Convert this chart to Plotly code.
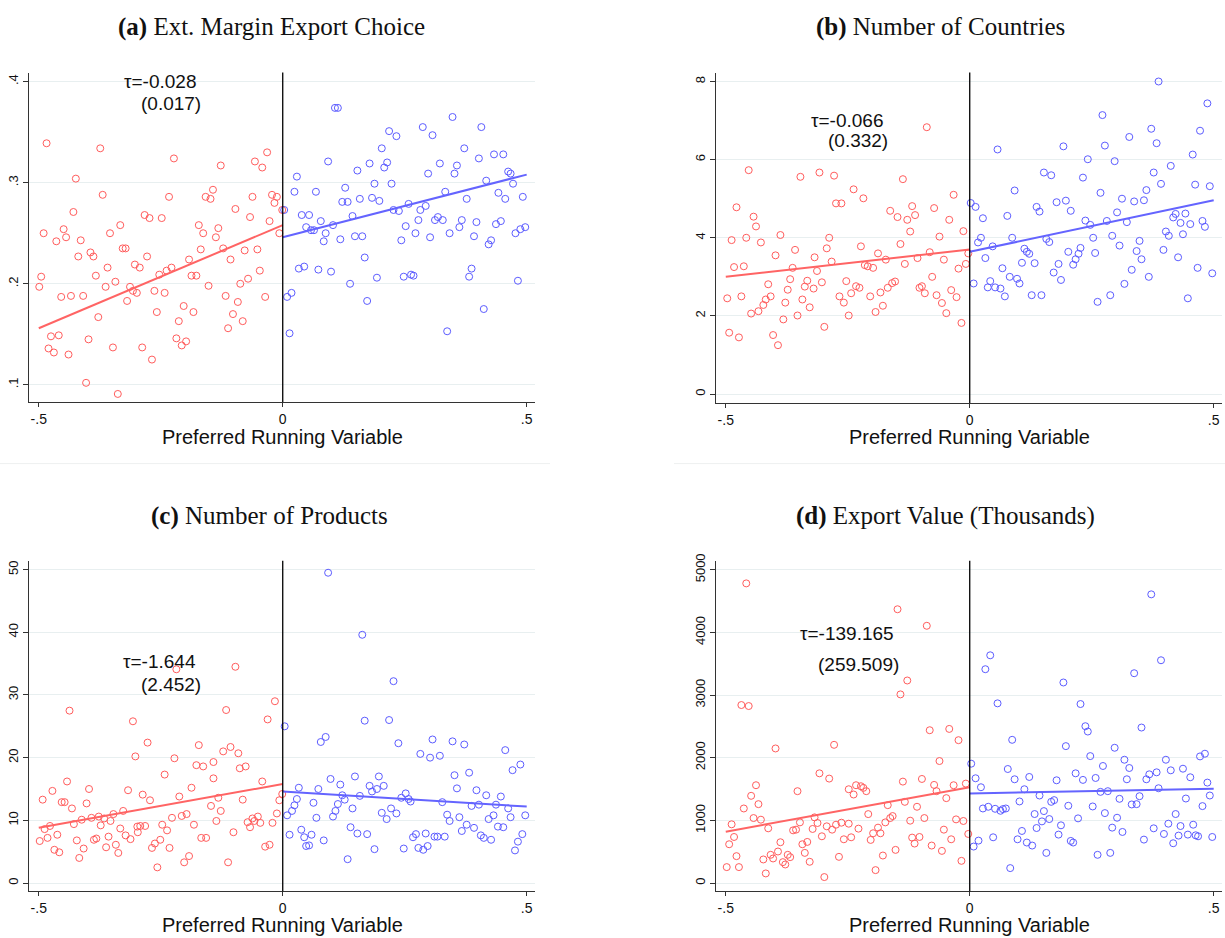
import plotly.graph_objects as go

# ---------------- data ----------------
# (a) Ext. margin export choice: binned means (running variable, outcome)
a_left = [(-0.484,0.339),(-0.374,0.334),(-0.223,0.324),(-0.032,0.330),(-0.127,0.317),(-0.057,0.321),(-0.042,0.315),
          (-0.424,0.304),(-0.369,0.288),(-0.233,0.286),(-0.158,0.286),(-0.143,0.293),(-0.148,0.284),(-0.022,0.288),
          (-0.012,0.286),(-0.017,0.280),(-0.062,0.286),(-0.429,0.271),(-0.283,0.268),(-0.273,0.265),(-0.248,0.265),
          (-0.097,0.274),(-0.001,0.273),(-0.067,0.266),(-0.027,0.262),(-0.490,0.250),(-0.449,0.254),(-0.444,0.246),
          (-0.464,0.242),(-0.414,0.243),(-0.354,0.250),(-0.333,0.258),(-0.172,0.258),(-0.132,0.255),(-0.163,0.250),
          (-0.137,0.246),(-0.007,0.250),(-0.328,0.235),(-0.322,0.235),(-0.122,0.235),(-0.168,0.234),(-0.078,0.233),
          (-0.052,0.234),(-0.419,0.227),(-0.394,0.231),(-0.388,0.227),(-0.278,0.227),(-0.359,0.216),(-0.303,0.219),
          (-0.293,0.216),(-0.192,0.224),(-0.107,0.224),(-0.047,0.213),(-0.495,0.207),(-0.383,0.208),(-0.238,0.213),
          (-0.228,0.216),(-0.253,0.209),(-0.187,0.208),(-0.177,0.208),(-0.071,0.205),(-0.499,0.197),(-0.363,0.197),
          (-0.343,0.202),(-0.313,0.197),(-0.307,0.193),(-0.299,0.191),(-0.263,0.193),(-0.242,0.191),(-0.152,0.198),
          (-0.087,0.200),(-0.454,0.187),(-0.434,0.188),(-0.409,0.188),(-0.319,0.183),(-0.117,0.188),(-0.092,0.182),
          (-0.036,0.187),(-0.378,0.167),(-0.258,0.172),(-0.203,0.178),(-0.183,0.172),(-0.102,0.170),(-0.213,0.163),
          (-0.082,0.163),(-0.112,0.156),(-0.475,0.148),(-0.459,0.149),(-0.398,0.145),(-0.480,0.136),(-0.469,0.132),
          (-0.439,0.130),(-0.348,0.137),(-0.288,0.137),(-0.268,0.125),(-0.218,0.146),(-0.207,0.139),(-0.198,0.143),
          (-0.403,0.102),(-0.338,0.091)]
a_right = [(0.107,0.374),(0.113,0.374),(0.348,0.365),(0.287,0.355),(0.407,0.355),(0.218,0.351),(0.233,0.346),
           (0.307,0.347),(0.203,0.334),(0.372,0.334),(0.093,0.321),(0.178,0.319),(0.214,0.320),(0.208,0.315),
           (0.153,0.312),(0.322,0.319),(0.357,0.317),(0.352,0.309),(0.298,0.309),(0.402,0.324),(0.433,0.328),
           (0.452,0.328),(0.029,0.306),(0.462,0.311),(0.467,0.309),(0.417,0.302),(0.472,0.299),(0.188,0.299),
           (0.223,0.299),(0.024,0.291),(0.068,0.291),(0.128,0.295),(0.333,0.291),(0.442,0.290),(0.122,0.281),
           (0.133,0.281),(0.158,0.284),(0.183,0.285),(0.198,0.282),(0.377,0.284),(0.456,0.284),(0.492,0.286),
           (0.258,0.279),(0.003,0.273),(0.227,0.273),(0.238,0.272),(0.282,0.273),(0.293,0.277),(0.039,0.268),
           (0.054,0.268),(0.143,0.267),(0.078,0.262),(0.318,0.266),(0.312,0.263),(0.328,0.263),(0.278,0.263),
           (0.367,0.263),(0.397,0.261),(0.437,0.259),(0.447,0.262),(0.048,0.256),(0.058,0.253),(0.064,0.253),
           (0.103,0.258),(0.252,0.257),(0.362,0.256),(0.088,0.250),(0.272,0.250),(0.342,0.250),(0.477,0.250),
           (0.487,0.254),(0.497,0.256),(0.084,0.242),(0.118,0.244),(0.148,0.247),(0.163,0.247),(0.243,0.243),
           (0.302,0.246),(0.392,0.247),(0.427,0.243),(0.422,0.239),(0.168,0.226),(0.033,0.215),(0.044,0.217),
           (0.073,0.214),(0.099,0.212),(0.193,0.206),(0.248,0.207),(0.263,0.209),(0.268,0.208),(0.382,0.207),
           (0.387,0.215),(0.138,0.200),(0.482,0.203),(0.009,0.187),(0.018,0.191),(0.173,0.183),(0.412,0.175),
           (0.014,0.151),(0.337,0.153)]
a_fit_left = [(-0.5, 0.156), (0.0, 0.258)]
a_fit_right = [(0.0, 0.246), (0.5, 0.308)]

# (b) Number of countries
b_left = [(-0.088,6.83),(-0.453,5.73),(-0.347,5.56),(-0.308,5.67),(-0.278,5.59),(-0.137,5.50),(-0.238,5.24),
          (-0.218,5.01),(-0.274,4.88),(-0.263,4.88),(-0.033,5.10),(-0.478,4.78),(-0.443,4.54),(-0.438,4.29),
          (-0.163,4.69),(-0.118,4.81),(-0.148,4.53),(-0.128,4.46),(-0.112,4.58),(-0.073,4.76),(-0.042,4.46),
          (-0.122,4.16),(-0.013,4.17),(-0.488,3.94),(-0.458,4.00),(-0.428,3.88),(-0.388,4.07),(-0.288,4.00),
          (-0.062,4.03),(-0.293,3.73),(-0.223,3.78),(-0.142,3.84),(-0.358,3.69),(-0.398,3.55),(-0.318,3.50),
          (-0.188,3.60),(-0.172,3.44),(-0.283,3.39),(-0.082,3.63),(-0.107,3.48),(-0.053,3.44),(-0.003,3.60),
          (-0.008,3.33),(-0.023,3.21),(-0.483,3.25),(-0.463,3.27),(-0.363,3.23),(-0.313,3.15),(-0.215,3.30),
          (-0.209,3.27),(-0.198,3.23),(-0.133,3.33),(-0.368,2.94),(-0.333,2.90),(-0.413,2.81),(-0.303,2.86),
          (-0.338,2.75),(-0.320,2.70),(-0.253,2.89),(-0.233,2.76),(-0.226,2.72),(-0.168,2.72),(-0.159,2.84),
          (-0.153,2.88),(-0.103,2.72),(-0.098,2.76),(-0.092,2.58),(-0.077,3.00),(-0.038,2.66),(-0.027,2.48),
          (-0.497,2.45),(-0.468,2.50),(-0.418,2.42),(-0.408,2.50),(-0.373,2.67),(-0.423,2.28),(-0.378,2.34),
          (-0.343,2.42),(-0.267,2.50),(-0.258,2.34),(-0.243,2.58),(-0.204,2.50),(-0.183,2.60),(-0.178,2.26),
          (-0.193,2.10),(-0.328,2.22),(-0.448,2.06),(-0.433,2.12),(-0.382,1.91),(-0.353,2.01),(-0.248,2.01),
          (-0.068,2.53),(-0.057,2.33),(-0.048,2.07),(-0.017,1.82),(-0.493,1.57),(-0.473,1.45),(-0.403,1.51),
          (-0.393,1.25),(-0.298,1.72)]
b_right = [(0.387,8.00),(0.487,7.44),(0.272,7.14),(0.372,6.79),(0.472,6.74),(0.327,6.58),(0.383,6.42),
           (0.192,6.34),(0.277,6.36),(0.057,6.26),(0.457,6.13),(0.242,6.01),(0.297,5.96),(0.412,5.84),
           (0.152,5.67),(0.167,5.60),(0.232,5.54),(0.377,5.67),(0.392,5.38),(0.462,5.36),(0.492,5.32),
           (0.092,5.21),(0.268,5.15),(0.362,5.22),(0.312,5.00),(0.337,4.93),(0.357,4.96),(0.178,4.91),
           (0.197,4.95),(0.002,4.89),(0.012,4.79),(0.137,4.79),(0.143,4.67),(0.207,4.69),(0.302,4.65),
           (0.027,4.50),(0.077,4.56),(0.237,4.44),(0.247,4.33),(0.281,4.43),(0.322,4.40),(0.422,4.61),
           (0.442,4.62),(0.417,4.52),(0.432,4.38),(0.452,4.35),(0.477,4.43),(0.482,4.28),(0.402,4.16),
           (0.408,4.05),(0.437,4.09),(0.023,4.00),(0.017,3.88),(0.087,4.00),(0.157,3.97),(0.163,3.89),
           (0.253,4.00),(0.292,4.05),(0.348,3.92),(0.047,3.78),(0.112,3.72),(0.117,3.64),(0.122,3.59),
           (0.227,3.74),(0.223,3.59),(0.202,3.64),(0.307,3.80),(0.257,3.61),(0.342,3.66),(0.397,3.69),
           (0.032,3.48),(0.107,3.36),(0.133,3.35),(0.182,3.33),(0.217,3.45),(0.212,3.31),(0.352,3.45),
           (0.427,3.50),(0.067,3.22),(0.467,3.23),(0.497,3.09),(0.172,3.11),(0.082,3.00),(0.097,2.95),
           (0.187,2.92),(0.102,2.83),(0.332,3.18),(0.367,3.00),(0.008,2.83),(0.042,2.89),(0.037,2.73),
           (0.052,2.73),(0.063,2.70),(0.072,2.50),(0.127,2.53),(0.147,2.53),(0.317,2.82),(0.288,2.53),
           (0.262,2.36),(0.447,2.45)]
b_fit_left = [(-0.5, 3.00), (0.0, 3.70)]
b_fit_right = [(0.0, 3.64), (0.5, 4.96)]

# (c) Number of products
c_left = [(-0.097,34.5),(-0.218,34.1),(-0.437,27.5),(-0.016,29.0),(-0.116,27.6),(-0.031,26.1),(-0.307,25.8),
          (-0.277,22.4),(-0.172,22.0),(-0.107,21.7),(-0.122,21.0),(-0.091,20.7),(-0.302,20.2),(-0.222,19.9),
          (-0.142,19.3),(-0.177,18.8),(-0.163,18.6),(-0.088,18.3),(-0.076,18.6),(-0.242,17.3),(-0.142,16.7),
          (-0.442,16.2),(-0.042,16.2),(-0.472,14.7),(-0.397,15.0),(-0.317,14.8),(-0.187,15.2),(-0.001,14.2),
          (-0.492,13.3),(-0.453,12.9),(-0.447,12.9),(-0.402,12.7),(-0.432,11.9),(-0.287,14.1),(-0.272,13.2),
          (-0.212,13.8),(-0.132,13.6),(-0.147,12.3),(-0.082,13.3),(-0.007,13.2),(-0.127,11.5),(-0.012,11.1),
          (-0.327,11.5),(-0.347,11.0),(-0.412,10.1),(-0.392,10.4),(-0.377,10.6),(-0.366,10.3),(-0.353,9.9),
          (-0.373,9.2),(-0.428,9.4),(-0.477,9.1),(-0.488,8.6),(-0.227,10.4),(-0.207,10.7),(-0.197,11.0),
          (-0.182,9.3),(-0.136,9.9),(-0.051,10.6),(-0.062,10.3),(-0.058,9.9),(-0.072,9.7),(-0.046,9.6),
          (-0.067,8.9),(-0.021,9.6),(-0.298,9.0),(-0.292,9.1),(-0.282,9.1),(-0.333,8.7),(-0.247,9.3),
          (-0.237,8.4),(-0.322,7.6),(-0.312,7.0),(-0.297,8.1),(-0.251,6.9),(-0.262,6.3),(-0.268,5.6),
          (-0.357,7.4),(-0.387,6.9),(-0.382,7.1),(-0.422,6.8),(-0.462,7.7),(-0.482,7.2),(-0.498,6.7),
          (-0.468,5.3),(-0.458,4.9),(-0.408,5.5),(-0.417,4.0),(-0.362,5.7),(-0.342,6.1),(-0.337,4.8),
          (-0.232,5.6),(-0.192,4.3),(-0.202,3.3),(-0.257,2.5),(-0.167,7.2),(-0.157,7.2),(-0.101,8.1),
          (-0.112,3.3),(-0.036,5.8),(-0.027,6.1)]
c_right = [(0.093,49.5),(0.163,39.6),(0.227,32.2),(0.004,25.0),(0.168,25.9),(0.218,26.0),(0.078,22.5),
           (0.088,23.3),(0.237,22.3),(0.307,22.9),(0.348,22.6),(0.372,22.1),(0.282,20.6),(0.302,20.0),
           (0.322,20.3),(0.456,21.2),(0.487,18.9),(0.471,18.0),(0.382,17.6),(0.352,17.2),(0.098,16.6),
           (0.148,17.0),(0.197,17.0),(0.118,15.7),(0.178,15.5),(0.193,15.0),(0.207,15.5),(0.183,14.6),
           (0.033,15.2),(0.073,15.0),(0.357,15.1),(0.397,14.8),(0.417,14.0),(0.447,13.8),(0.029,13.4),
           (0.122,14.0),(0.127,13.3),(0.158,13.9),(0.252,14.3),(0.243,13.6),(0.258,13.4),(0.262,13.0),
           (0.327,12.9),(0.024,12.4),(0.113,12.6),(0.063,12.8),(0.387,12.3),(0.402,12.5),(0.437,12.5),
           (0.462,11.9),(0.019,11.5),(0.108,11.5),(0.143,11.9),(0.222,11.9),(0.009,10.8),(0.103,10.6),
           (0.203,11.2),(0.233,11.1),(0.337,10.9),(0.497,10.8),(0.069,10.4),(0.213,10.2),(0.342,9.9),
           (0.362,10.5),(0.422,10.2),(0.432,10.8),(0.467,10.5),(0.377,9.3),(0.392,8.8),(0.441,9.0),
           (0.452,8.9),(0.139,8.9),(0.038,8.5),(0.153,7.9),(0.173,7.8),(0.059,7.7),(0.044,7.3),
           (0.014,7.7),(0.367,8.3),(0.273,7.8),(0.267,7.3),(0.293,7.9),(0.311,7.4),(0.317,7.4),
           (0.332,7.4),(0.406,7.6),(0.412,7.2),(0.427,6.9),(0.491,7.8),(0.084,6.8),(0.048,5.9),
           (0.054,6.0),(0.188,5.4),(0.248,5.5),(0.278,5.6),(0.288,5.3),(0.297,5.9),(0.482,6.6),
           (0.476,5.2),(0.133,3.8)]
c_fit_left = [(-0.5, 8.8), (0.0, 15.8)]
c_fit_right = [(0.0, 14.6), (0.5, 12.2)]

# (d) Export value (thousands)
d_left = [(-0.458,4783),(-0.148,4370),(-0.088,4106),(-0.468,2841),(-0.453,2825),(-0.128,3233),(-0.142,3011),
          (-0.398,2148),(-0.278,2206),(-0.082,2439),(-0.042,2460),(-0.023,2280),(-0.062,1947),(-0.308,1751),
          (-0.288,1667),(-0.098,1661),(-0.137,1619),(-0.438,1561),(-0.448,1392),(-0.353,1466),(-0.248,1497),
          (-0.238,1413),(-0.233,1561),(-0.223,1545),(-0.218,1519),(-0.212,1466),(-0.073,1566),(-0.068,1466),
          (-0.033,1561),(-0.008,1587),(-0.048,1355),(-0.433,1259),(-0.463,1190),(-0.168,1243),(-0.133,1296),
          (-0.108,1217),(-0.443,1037),(-0.428,1011),(-0.208,1100),(-0.318,1048),(-0.158,1069),(-0.163,1037),
          (-0.093,1037),(-0.028,1016),(-0.013,990),(-0.122,995),(-0.173,968),(-0.488,937),(-0.348,968),
          (-0.413,873),(-0.312,958),(-0.322,863),(-0.362,841),(-0.356,852),(-0.293,905),(-0.282,852),
          (-0.274,931),(-0.263,963),(-0.248,947),(-0.228,868),(-0.303,746),(-0.198,794),(-0.183,794),
          (-0.188,884),(-0.053,852),(-0.003,783),(-0.258,698),(-0.243,730),(-0.203,688),(-0.118,725),
          (-0.103,735),(-0.113,630),(-0.038,698),(-0.483,735),(-0.493,619),(-0.388,651),(-0.343,619),
          (-0.333,656),(-0.078,598),(-0.057,513),(-0.152,529),(-0.393,503),(-0.408,450),(-0.338,481),
          (-0.403,392),(-0.423,376),(-0.373,450),(-0.368,413),(-0.383,333),(-0.378,296),(-0.328,339),
          (-0.268,418),(-0.178,439),(-0.478,429),(-0.498,254),(-0.473,254),(-0.418,153),(-0.298,95),
          (-0.193,206),(-0.017,354)]
d_right = [(0.372,4608),(0.042,3635),(0.032,3413),(0.392,3556),(0.337,3349),(0.192,3201),(0.057,2868),
           (0.227,2857),(0.237,2503),(0.242,2418),(0.352,2482),(0.087,2286),(0.197,2185),(0.297,2159),
           (0.247,2026),(0.317,1968),(0.402,1968),(0.472,2021),(0.482,2064),(0.003,1905),(0.078,1820),
           (0.273,1868),(0.327,1836),(0.412,1799),(0.437,1825),(0.217,1751),(0.012,1672),(0.092,1656),
           (0.122,1693),(0.178,1640),(0.232,1646),(0.258,1677),(0.322,1656),(0.362,1656),(0.368,1735),
           (0.383,1767),(0.452,1688),(0.487,1603),(0.023,1529),(0.112,1497),(0.268,1455),(0.283,1466),
           (0.387,1513),(0.143,1397),(0.492,1397),(0.102,1302),(0.167,1296),(0.173,1323),(0.307,1344),
           (0.348,1386),(0.332,1254),(0.342,1259),(0.443,1349),(0.027,1190),(0.038,1217),(0.052,1185),
           (0.063,1153),(0.068,1180),(0.074,1190),(0.202,1233),(0.252,1222),(0.477,1228),(0.152,1148),
           (0.133,1101),(0.277,1116),(0.422,1101),(0.148,984),(0.163,1021),(0.222,1032),(0.302,1042),
           (0.137,878),(0.187,921),(0.292,884),(0.377,873),(0.407,947),(0.432,910),(0.458,931),
           (0.107,831),(0.182,773),(0.313,815),(0.398,783),(0.428,757),(0.447,773),(0.463,762),
           (0.468,746),(0.497,735),(0.018,677),(0.008,582),(0.048,730),(0.098,698),(0.117,646),
           (0.128,598),(0.207,672),(0.212,646),(0.357,693),(0.417,635),(0.157,481),(0.262,450),
           (0.288,481),(0.083,238)]
d_fit_left = [(-0.5, 820), (0.0, 1529)]
d_fit_right = [(0.0, 1429), (0.5, 1503)]

titles = ["<b>(a)</b> Ext. Margin Export Choice", "<b>(b)</b> Number of Countries",
          "<b>(c)</b> Number of Products", "<b>(d)</b> Export Value (Thousands)"]
tau_text = [("τ=-0.028", "(0.017)"), ("τ=-0.066", "(0.332)"),
            ("τ=-1.644", "(2.452)"), ("τ=-139.165", "(259.509)")]
tau_pos = [((-0.252, 0.400), (-0.228, 0.378)), ((-0.251, 7.01), (-0.230, 6.50)),
           ((-0.252, 35.4), (-0.230, 31.6)), ((-0.251, 3987), (-0.227, 3481))]
y_ticks = [[0.1, 0.2, 0.3, 0.4], [0, 2, 4, 6, 8], [0, 10, 20, 30, 40, 50],
           [0, 1000, 2000, 3000, 4000, 5000]]
y_ticktext = [[".1", ".2", ".3", ".4"], ["0", "2", "4", "6", "8"],
              ["0", "10", "20", "30", "40", "50"],
              ["0", "1000", "2000", "3000", "4000", "5000"]]
y_ranges = [[0.083, 0.409], [-0.23, 8.23], [-1.33, 51.4], [-133, 5143]]
x_ticks = [-0.5, 0, 0.5]
x_ticktext = ["-.5", "0", ".5"]
x_title = "Preferred Running Variable"

# ---------------- layout geometry ----------------
W, H = 1225, 938
RED, BLUE = "#ff5c5c", "#5c5cff"
RED_LINE, BLUE_LINE = "#ff6464", "#6464ff"
GRID = "#e8eff0"
FONT = "Liberation Sans, Arial, sans-serif"
SERIF = "Liberation Serif, Times New Roman, serif"

# pixel boxes of the four plot regions: (left, right, top, bottom)
boxes = [(29, 535, 66, 398), (716, 1222, 66, 399), (29, 535, 558, 891), (716, 1222, 558, 891)]
title_xy = [(271, 20), (940, 20), (269, 513), (945, 513)]
xtitle_y = [433, 433, 925, 925]

panels = [(a_left, a_right, a_fit_left, a_fit_right),
          (b_left, b_right, b_fit_left, b_fit_right),
          (c_left, c_right, c_fit_left, c_fit_right),
          (d_left, d_right, d_fit_left, d_fit_right)]

fig = go.Figure()
annotations = []
shapes = []

def unzip(pairs):
    return [p[0] for p in pairs], [p[1] for p in pairs]

for i, (left, right, fl, fr) in enumerate(panels):
    k = "" if i == 0 else str(i + 1)
    xa, ya = "x" + k, "y" + k
    for pts, col in ((left, RED), (right, BLUE)):
        xs, ys = unzip(pts)
        fig.add_trace(go.Scatter(x=xs, y=ys, mode="markers", xaxis=xa, yaxis=ya,
                                 marker=dict(symbol="circle-open", size=7, color=col,
                                             line=dict(width=1, color=col)),
                                 hoverinfo="skip", showlegend=False))
    for pts, col in ((fl, RED_LINE), (fr, BLUE_LINE)):
        xs, ys = unzip(pts)
        fig.add_trace(go.Scatter(x=xs, y=ys, mode="lines", xaxis=xa, yaxis=ya,
                                 line=dict(color=col, width=2),
                                 hoverinfo="skip", showlegend=False))

    l, r, t, b = boxes[i]
    xdom = [l / W, r / W]
    ydom = [1 - b / H, 1 - t / H]
    fig.update_layout(**{
        "xaxis" + k: dict(domain=xdom, range=[-0.52, 0.517], anchor=ya,
                          tickvals=x_ticks, ticktext=x_ticktext, ticks="outside",
                          ticklen=4, tickwidth=1, tickcolor="#333",
                          showline=True, linecolor="#333", linewidth=1,
                          showgrid=False, zeroline=False,
                          tickfont=dict(family=FONT, size=14, color="#111")),
        "yaxis" + k: dict(domain=ydom, range=y_ranges[i], anchor=xa,
                          tickvals=y_ticks[i], ticktext=y_ticktext[i], ticks="outside",
                          ticklen=5, tickwidth=1, tickcolor="#333", tickangle=-90,
                          showline=True, linecolor="#333", linewidth=1,
                          showgrid=True, gridcolor=GRID, gridwidth=1, zeroline=False,
                          tickfont=dict(family=FONT, size=13, color="#111")),
    })

    # cutoff line at zero
    shapes.append(dict(type="line", xref=xa, yref=ya + " domain", x0=0, x1=0, y0=0, y1=1,
                       line=dict(color="black", width=1.3), layer="above"))

    # estimate labels
    (t1, t2), (p1, p2) = tau_text[i], tau_pos[i]
    for txt, p in ((t1, p1), (t2, p2)):
        annotations.append(dict(x=p[0], y=p[1], xref=xa, yref=ya, text=txt, showarrow=False,
                                font=dict(family=FONT, size=19, color="#111"),
                                xanchor="center", yanchor="middle"))

    # panel title and x-axis title
    tx, ty = title_xy[i]
    annotations.append(dict(x=tx / W, y=1 - ty / H, xref="paper", yref="paper", text=titles[i],
                            showarrow=False, font=dict(family=SERIF, size=25, color="#111"),
                            xanchor="center", yanchor="middle"))
    annotations.append(dict(x=(l + r) / 2 / W, y=1 - xtitle_y[i] / H, xref="paper",
                            yref="paper", text=x_title, showarrow=False,
                            font=dict(family=FONT, size=20, color="#111"),
                            xanchor="center", yanchor="middle"))

# faint separators between the rows
for x0, x1 in ((0, 550), (674, W)):
    shapes.append(dict(type="line", xref="paper", yref="paper", x0=x0 / W, x1=x1 / W,
                       y0=1 - 460 / H, y1=1 - 460 / H, line=dict(color="#eef0f0", width=1)))

fig.update_layout(width=W, height=H, margin=dict(l=0, r=0, t=0, b=0),
                  paper_bgcolor="white", plot_bgcolor="white",
                  annotations=annotations, shapes=shapes, showlegend=False)

fig.write_html("out.html")
